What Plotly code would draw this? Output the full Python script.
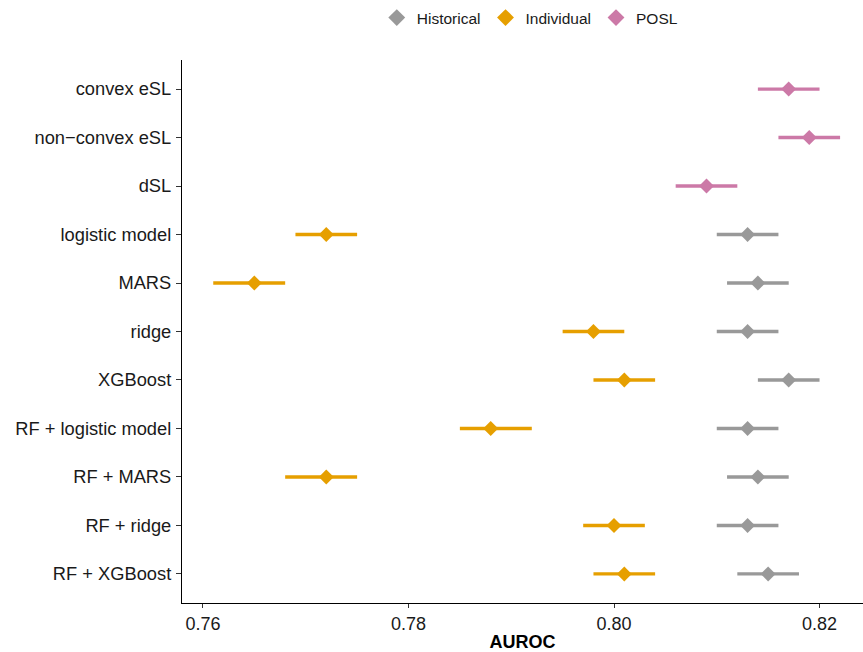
import plotly.graph_objects as go

# Categories, top to bottom
categories = ["convex eSL", "non\u2212convex eSL", "dSL", "logistic model", "MARS", "ridge",
              "XGBoost", "RF + logistic model", "RF + MARS", "RF + ridge", "RF + XGBoost"]

# POSL
posl_cats = ["convex eSL", "non\u2212convex eSL", "dSL"]
posl_est = [0.817, 0.819, 0.809]
posl_lo = [0.814, 0.816, 0.806]
posl_hi = [0.820, 0.822, 0.812]

# Individual / Historical
learner_cats = ["logistic model", "MARS", "ridge", "XGBoost", "RF + logistic model",
                "RF + MARS", "RF + ridge", "RF + XGBoost"]
ind_est = [0.772, 0.765, 0.798, 0.801, 0.788, 0.772, 0.800, 0.801]
ind_lo = [0.769, 0.761, 0.795, 0.798, 0.785, 0.768, 0.797, 0.798]
ind_hi = [0.775, 0.768, 0.801, 0.804, 0.792, 0.775, 0.803, 0.804]

hist_est = [0.813, 0.814, 0.813, 0.817, 0.813, 0.814, 0.813, 0.815]
hist_lo = [0.810, 0.811, 0.810, 0.814, 0.810, 0.811, 0.810, 0.812]
hist_hi = [0.816, 0.817, 0.816, 0.820, 0.816, 0.817, 0.816, 0.818]

x_ticks = [0.76, 0.78, 0.80, 0.82]
x_tick_labels = ["0.76", "0.78", "0.80", "0.82"]

series = [
    ("Historical", "#999999", learner_cats, hist_est, hist_lo, hist_hi),
    ("Individual", "#E69F00", learner_cats, ind_est, ind_lo, ind_hi),
    ("POSL", "#CC79A7", posl_cats, posl_est, posl_lo, posl_hi),
]

FONT = "Liberation Sans, Arial, Helvetica, sans-serif"

fig = go.Figure()
for name, color, cats, est, lo, hi in series:
    xs, ys = [], []
    for c, a, b in zip(cats, lo, hi):
        xs += [a, b, None]
        ys += [c, c, None]
    fig.add_trace(go.Scatter(x=xs, y=ys, mode="lines", line=dict(color=color, width=3.4),
                             showlegend=False, hoverinfo="skip"))
for name, color, cats, est, lo, hi in series:
    fig.add_trace(go.Scatter(x=est, y=cats, mode="markers", name=name, showlegend=False,
                             marker=dict(symbol="diamond", size=11.5, color=color,
                                         line=dict(width=0))))
# legend entries (larger keys, as in the reference)
for name, color, cats, est, lo, hi in series:
    fig.add_trace(go.Scatter(x=[None], y=[None], mode="markers", name=name,
                             marker=dict(symbol="diamond", size=13, color=color,
                                         line=dict(width=0))))

n = len(categories)
fig.update_layout(
    width=863, height=652,
    margin=dict(l=182, r=0, t=60, b=49),
    plot_bgcolor="white", paper_bgcolor="white",
    font=dict(family=FONT, size=18, color="#1a1a1a"),
    legend=dict(orientation="h", x=0.286, xanchor="left", yref="container",
                y=1 - 18 / 652, yanchor="middle", font=dict(size=15.5, color="#1a1a1a"),
                bgcolor="rgba(0,0,0,0)", itemwidth=30),
    xaxis=dict(range=[0.75796, 0.82423], tickvals=x_ticks, ticktext=x_tick_labels,
               showgrid=False, zeroline=False, showline=True, linecolor="black", linewidth=1.2,
               ticks="outside", ticklen=4, tickwidth=1.1, tickcolor="#333333",
               tickfont=dict(size=18, color="#1a1a1a"),
               title=dict(text="<b>AUROC</b>", font=dict(size=18, color="black"), standoff=5)),
    yaxis=dict(type="category", categoryorder="array", categoryarray=categories,
               range=[n - 1 + 0.6, -0.6], showgrid=False, zeroline=False, showline=True,
               linecolor="black", linewidth=1.2, ticks="outside", ticklen=5, tickwidth=1.1,
               tickcolor="#333333", tickfont=dict(size=18.3, color="#1a1a1a"), ticklabelstandoff=1),
)

fig.write_html("out.html")
